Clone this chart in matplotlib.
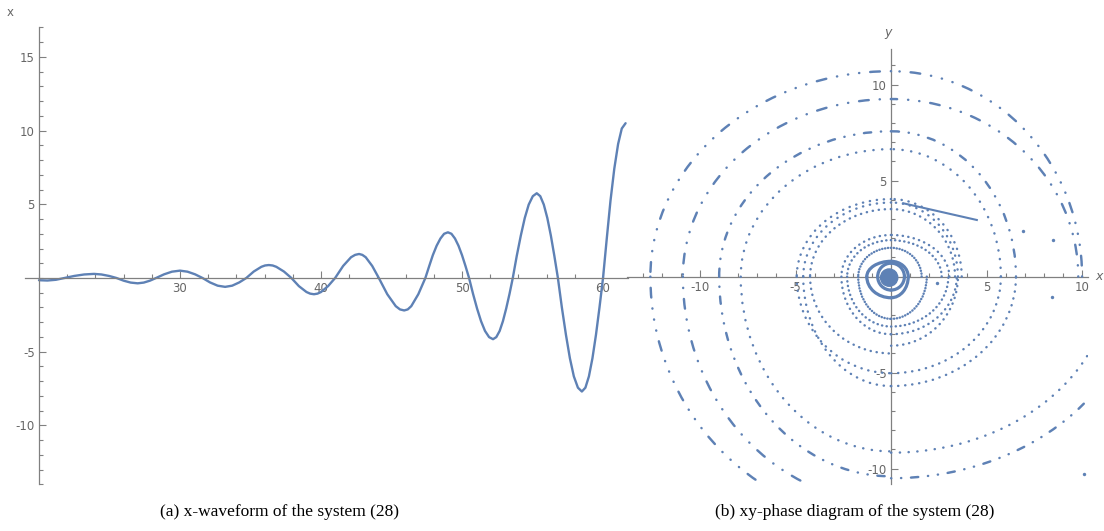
import numpy as np
import matplotlib
matplotlib.use("Agg")
import matplotlib.pyplot as plt
from matplotlib.patches import Arc, Ellipse
from matplotlib.ticker import MultipleLocator, FixedLocator

# ---------------- data: panel (a) x-waveform ----------------
t_vals = [20.0, 20.6, 21.2, 21.8, 22.5, 23.2, 23.9, 24.43, 24.97, 25.5,
          26.0, 26.5, 27.0, 27.43, 27.87, 28.3, 28.87, 29.43, 30.0, 30.53,
          31.07, 31.6, 32.13, 32.67, 33.2, 33.7, 34.2, 34.7, 35.23, 35.77,
          36.03, 36.3, 36.57, 36.83, 37.37, 37.9, 38.43, 38.97, 39.23, 39.5,
          39.75, 40.0, 40.5, 41.0, 41.57, 42.13, 42.42, 42.7, 42.93, 43.17,
          43.63, 44.1, 44.7, 45.3, 45.6, 45.9, 46.15, 46.4, 46.9, 47.4,
          47.67, 47.93, 48.2, 48.47, 48.73, 49.0, 49.25, 49.5, 49.75, 50.0,
          50.25, 50.5, 50.78, 51.07, 51.35, 51.63, 51.92, 52.2, 52.43, 52.67,
          52.9, 53.13, 53.37, 53.6, 53.88, 54.17, 54.45, 54.73, 55.02, 55.3,
          55.55, 55.8, 56.05, 56.3, 56.55, 56.8, 57.08, 57.37, 57.65, 57.93,
          58.22, 58.5, 58.75, 59.0, 59.25, 59.5, 59.75, 60.0, 60.27, 60.53,
          60.8, 61.07, 61.33, 61.6]
x_vals = [-0.15, -0.17, -0.12, 0.0, 0.14, 0.24, 0.28, 0.24, 0.14, 0.0,
          -0.18, -0.31, -0.36, -0.31, -0.18, 0.0, 0.25, 0.43, 0.50, 0.43,
          0.25, 0.0, -0.30, -0.52, -0.60, -0.52, -0.30, 0.0, 0.44, 0.76,
          0.85, 0.88, 0.85, 0.76, 0.44, 0.0, -0.55, -0.95, -1.06, -1.10,
          -1.06, -0.95, -0.55, 0.0, 0.82, 1.41, 1.57, 1.63, 1.57, 1.41,
          0.82, 0.0, -1.10, -1.91, -2.13, -2.20, -2.13, -1.91, -1.10, 0.0,
          0.80, 1.55, 2.19, 2.68, 3.00, 3.10, 3.00, 2.68, 2.19, 1.55,
          0.80, 0.0, -1.07, -2.08, -2.93, -3.59, -4.01, -4.15, -4.01, -3.59,
          -2.93, -2.08, -1.07, 0.0, 1.49, 2.88, 4.07, 4.98, 5.55, 5.75,
          5.55, 4.98, 4.07, 2.88, 1.49, 0.0, -1.99, -3.85, -5.44, -6.67,
          -7.44, -7.70, -7.44, -6.67, -5.44, -3.85, -1.99, 0.0, 2.72, 5.25,
          7.42, 9.09, 10.14, 10.5]

a_xticks = [30, 40, 50, 60]
a_yticks = [-10, -5, 5, 10, 15]

# ---------------- data: panel (b) xy-phase rings (axis intercepts) ----------------
# per ring: x-intercept of upper-right arc, top y, left x, lower-left bottom y,
# lower-right bottom y, x-intercept of lower-right arc (nan = not visible)
nan = float("nan")
ring_right_up = [10.0, 9.8, 6.54, 5.75, 3.7, 3.5, 3.35, 3.05, 2.65, 1.6, 0.9, 0.7]
ring_top      = [10.7, 9.25, 7.57, 6.64, 4.04, 3.86, 3.52, 2.17, 1.9, 1.5, 0.8, 0.7]
ring_left     = [12.6, 10.9, 9.0, 7.87, 4.94, 4.6, 4.24, 2.6, 2.3, 1.72, 1.27, 0.7]
ring_bot_left = [12.8, 11.8, 10.4, 9.1, 5.03, 5.7, 4.0, 3.0, 2.6, 2.2, 1.1, 0.7]
ring_bot_right= [nan, nan, 10.5, 9.17, 5.03, 5.7, 3.6, 3.0, 2.6, 2.2, 1.1, 0.7]
ring_right_lo = [nan, nan, 13.0, 11.5, 5.75, 6.54, 3.5, 3.44, 3.0, 1.87, 0.9, 0.7]

core_radius = 0.45
segment_x = [0.64, 4.49]
segment_y = [3.82, 2.95]
stray_x = [6.9, 8.5, 8.4, 10.1, 2.4]
stray_y = [2.4, 1.9, -1.07, -10.3, -0.33]

b_ticks = [-10, -5, 5, 10]

# ---------------- styling ----------------
LINE = "#5E81B5"
AXC = "#808080"
LABC = "#666666"
plt.rcParams["axes.unicode_minus"] = False
plt.rcParams["font.family"] = ["DejaVu Sans"]

ring_dash = [
    (0, (0.1, 4.5, 4, 4.5, 0.1, 4.5, 0.1, 4.5)),
    (0, (0.1, 4.5, 0.1, 4.5, 4, 4.5)),
    (0, (0.1, 4, 0.1, 4, 3, 4)),
    (0, (0.1, 3.5)),
    (0, (0.1, 2.8)),
    (0, (0.1, 2.8)),
    (0, (0.1, 2.4)),
    (0, (0.1, 2.2)),
    (0, (0.1, 1.8)),
    (0, (0.1, 1.1)),
    "solid",
    "solid",
]

W, H = 1104, 531
fig = plt.figure(figsize=(W / 100, H / 100), dpi=100)

def style_axes(ax):
    for s in ("top", "right"):
        ax.spines[s].set_visible(False)
    for s in ("left", "bottom"):
        ax.spines[s].set_color(AXC)
        ax.spines[s].set_linewidth(0.9)
    ax.tick_params(which="both", direction="in", colors=AXC, labelcolor=LABC,
                   labelsize=8.5, width=0.8)
    ax.tick_params(which="major", length=5, pad=3)
    ax.tick_params(which="minor", length=3)
    ax.patch.set_alpha(0)

# ---------- panel (a) ----------
axa = fig.add_axes([24.9 / W, (H - 484.4) / H, (627.7 - 24.9) / W, (484.4 - 27.4) / H])
axa.plot(t_vals, x_vals, color=LINE, lw=1.7, solid_joinstyle="round", solid_capstyle="round")
axa.set_xlim(19.0, 61.75)
axa.set_ylim(-14.0, 17.0)
axa.spines["left"].set_position(("data", 20))
axa.spines["bottom"].set_position(("data", 0))
style_axes(axa)
axa.xaxis.set_major_locator(FixedLocator(a_xticks))
axa.xaxis.set_minor_locator(MultipleLocator(2))
axa.yaxis.set_major_locator(FixedLocator(a_yticks))
axa.yaxis.set_minor_locator(MultipleLocator(1))
axa.annotate("x", xy=(20, 17), xytext=(-21, 11), textcoords="offset points",
             ha="center", va="center", color=LABC, fontsize=8.5)

# ---------- panel (b) ----------
axb = fig.add_axes([626.7 / W, (H - 484.0) / H, (1088 - 626.7) / W, (484.0 - 49.3) / H])
axb.set_xlim(-13.84, 10.31)
axb.set_ylim(-10.8, 11.84)
axb.spines["left"].set_position(("data", 0))
axb.spines["bottom"].set_position(("data", 0))
style_axes(axb)
axb.xaxis.set_major_locator(FixedLocator(b_ticks))
axb.xaxis.set_minor_locator(MultipleLocator(1))
axb.yaxis.set_major_locator(FixedLocator(b_ticks))
axb.yaxis.set_minor_locator(MultipleLocator(1))

def quarter(ax, a, b, th1, th2, ls, lw):
    if not (np.isfinite(a) and np.isfinite(b)):
        return
    arc = Arc((0, 0), 2 * a, 2 * b, theta1=th1, theta2=th2, color=LINE,
              lw=lw, linestyle=ls, zorder=3)
    arc.set_capstyle("round")
    ax.add_patch(arc)

for i in range(len(ring_top)):
    ls = ring_dash[i]
    lw = 2.3 if ls == "solid" else 1.75
    quarter(axb, ring_right_up[i], ring_top[i], 0, 90, ls, lw)
    quarter(axb, ring_left[i], ring_top[i], 90, 180, ls, lw)
    quarter(axb, ring_left[i], ring_bot_left[i], 180, 270, ls, lw)
    quarter(axb, ring_right_lo[i], ring_bot_right[i], 270, 360, ls, lw)

axb.add_patch(Ellipse((-0.1, -0.05), 2 * core_radius, 2 * core_radius,
                      color=LINE, zorder=4))
axb.plot(segment_x, segment_y, color=LINE, lw=1.5, zorder=3)
axb.scatter(stray_x, stray_y, s=6, color=LINE, zorder=3, linewidths=0)

axb.annotate("y", xy=(0, 11.84), xytext=(-2, 12), textcoords="offset points",
             ha="center", va="center", color=LABC, fontsize=9, style="italic")
axb.annotate("x", xy=(10.31, 0), xytext=(8, 0), textcoords="offset points",
             ha="center", va="center", color=LABC, fontsize=9, style="italic",
             annotation_clip=False)

# ---------- captions ----------
fig.text(279.5 / W, 1 - 512 / H, "(a) x-waveform of the system (28)",
         ha="center", va="center", fontsize=12.5, family="Liberation Serif")
fig.text(855 / W, 1 - 512 / H, "(b) xy-phase diagram of the system (28)",
         ha="center", va="center", fontsize=12.5, family="Liberation Serif")

fig.savefig("out.png", dpi=100)
